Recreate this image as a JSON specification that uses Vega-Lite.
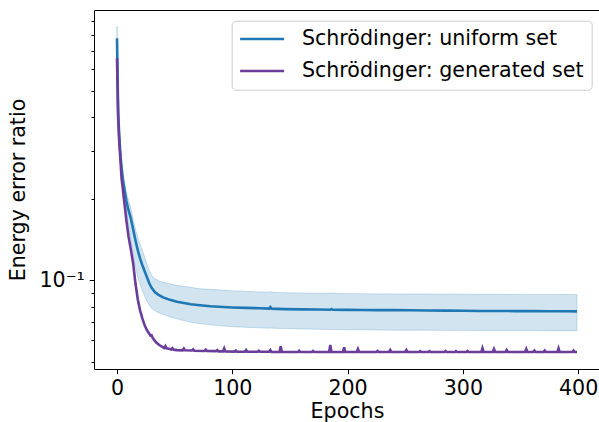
{
  "$schema": "https://vega.github.io/schema/vega-lite/v6.json",
  "width": 506,
  "height": 359,
  "autosize": {"type": "none"},
  "padding": {"left": 94, "top": 10, "right": 0, "bottom": 53},
  "config": {
    "font": "DejaVu Sans",
    "view": {"stroke": "black", "strokeWidth": 1},
    "axis": {
      "labelFont": "DejaVu Sans", "labelFontSize": 20.6, "labelColor": "black",
      "titleFont": "DejaVu Sans", "titleFontSize": 20.6, "titleFontWeight": "normal", "titleColor": "black",
      "tickColor": "black", "tickWidth": 1, "domain": false, "grid": false
    }
  },
  "datasets": {
    "u": [
      {"epoch": 0, "mean": 0.780, "lo": 0.706, "hi": 0.865},
      {"epoch": 1, "mean": 0.417, "lo": 0.396, "hi": 0.442},
      {"epoch": 2, "mean": 0.337, "lo": 0.320, "hi": 0.355},
      {"epoch": 3, "mean": 0.289, "lo": 0.277, "hi": 0.304},
      {"epoch": 4, "mean": 0.259, "lo": 0.246, "hi": 0.273},
      {"epoch": 5, "mean": 0.238, "lo": 0.224, "hi": 0.250},
      {"epoch": 6, "mean": 0.222, "lo": 0.211, "hi": 0.234},
      {"epoch": 7, "mean": 0.2095, "lo": 0.1973, "hi": 0.2223},
      {"epoch": 8, "mean": 0.1973, "lo": 0.1845, "hi": 0.2113},
      {"epoch": 9, "mean": 0.1891, "lo": 0.1708, "hi": 0.2042},
      {"epoch": 10, "mean": 0.1813, "lo": 0.1583, "hi": 0.1973},
      {"epoch": 12, "mean": 0.1694, "lo": 0.1417, "hi": 0.1845},
      {"epoch": 14, "mean": 0.1542, "lo": 0.1258, "hi": 0.1680},
      {"epoch": 16, "mean": 0.1405, "lo": 0.1117, "hi": 0.1542},
      {"epoch": 18, "mean": 0.1291, "lo": 0.1026, "hi": 0.1441},
      {"epoch": 20, "mean": 0.1205, "lo": 0.0967, "hi": 0.1358},
      {"epoch": 22, "mean": 0.1136, "lo": 0.0919, "hi": 0.1291},
      {"epoch": 24, "mean": 0.1079, "lo": 0.0873, "hi": 0.1216},
      {"epoch": 26, "mean": 0.1026, "lo": 0.0837, "hi": 0.1146},
      {"epoch": 28, "mean": 0.0975, "lo": 0.0809, "hi": 0.1089},
      {"epoch": 30, "mean": 0.0938, "lo": 0.0788, "hi": 0.1043},
      {"epoch": 33, "mean": 0.0903, "lo": 0.0772, "hi": 0.1013},
      {"epoch": 36, "mean": 0.0884, "lo": 0.0759, "hi": 0.0996},
      {"epoch": 40, "mean": 0.0865, "lo": 0.0749, "hi": 0.0983},
      {"epoch": 46, "mean": 0.0847, "lo": 0.0733, "hi": 0.0971},
      {"epoch": 52, "mean": 0.0833, "lo": 0.0721, "hi": 0.0958},
      {"epoch": 64, "mean": 0.0816, "lo": 0.0700, "hi": 0.0942},
      {"epoch": 72, "mean": 0.0809, "lo": 0.0692, "hi": 0.0930},
      {"epoch": 81, "mean": 0.0802, "lo": 0.0685, "hi": 0.0926},
      {"epoch": 100, "mean": 0.0794, "lo": 0.0674, "hi": 0.0915},
      {"epoch": 112, "mean": 0.0791, "lo": 0.0671, "hi": 0.0910},
      {"epoch": 124, "mean": 0.0789, "lo": 0.0668, "hi": 0.0906},
      {"epoch": 132, "mean": 0.0786, "lo": 0.0666, "hi": 0.0904},
      {"epoch": 133, "mean": 0.0796, "lo": 0.0668, "hi": 0.0914},
      {"epoch": 134, "mean": 0.0786, "lo": 0.0666, "hi": 0.0903},
      {"epoch": 145, "mean": 0.0783, "lo": 0.0664, "hi": 0.0900},
      {"epoch": 160, "mean": 0.0781, "lo": 0.0662, "hi": 0.0898},
      {"epoch": 175, "mean": 0.0780, "lo": 0.0660, "hi": 0.0896},
      {"epoch": 185, "mean": 0.0779, "lo": 0.0659, "hi": 0.0895},
      {"epoch": 186, "mean": 0.0784, "lo": 0.0659, "hi": 0.0902},
      {"epoch": 187, "mean": 0.0779, "lo": 0.0659, "hi": 0.0895},
      {"epoch": 200, "mean": 0.0778, "lo": 0.0657, "hi": 0.0893},
      {"epoch": 212, "mean": 0.0777, "lo": 0.0657, "hi": 0.0892},
      {"epoch": 225, "mean": 0.0776, "lo": 0.0656, "hi": 0.0891},
      {"epoch": 240, "mean": 0.0776, "lo": 0.0655, "hi": 0.0891},
      {"epoch": 255, "mean": 0.0775, "lo": 0.0655, "hi": 0.0890},
      {"epoch": 270, "mean": 0.0774, "lo": 0.0655, "hi": 0.0890},
      {"epoch": 285, "mean": 0.0773, "lo": 0.0654, "hi": 0.0889},
      {"epoch": 300, "mean": 0.0772, "lo": 0.0654, "hi": 0.0889},
      {"epoch": 315, "mean": 0.0771, "lo": 0.0653, "hi": 0.0888},
      {"epoch": 330, "mean": 0.0771, "lo": 0.0653, "hi": 0.0888},
      {"epoch": 345, "mean": 0.0770, "lo": 0.0653, "hi": 0.0887},
      {"epoch": 360, "mean": 0.0770, "lo": 0.0653, "hi": 0.0887},
      {"epoch": 375, "mean": 0.0769, "lo": 0.0652, "hi": 0.0887},
      {"epoch": 390, "mean": 0.0769, "lo": 0.0652, "hi": 0.0886},
      {"epoch": 399, "mean": 0.0768, "lo": 0.0652, "hi": 0.0886}
    ],
    "g": [
      {"epoch": 0, "value": 0.658}, {"epoch": 1, "value": 0.396}, {"epoch": 2, "value": 0.320},
      {"epoch": 3, "value": 0.277}, {"epoch": 4, "value": 0.236}, {"epoch": 5, "value": 0.219},
      {"epoch": 6, "value": 0.199}, {"epoch": 7, "value": 0.184}, {"epoch": 8, "value": 0.168},
      {"epoch": 9, "value": 0.156}, {"epoch": 10, "value": 0.145}, {"epoch": 12, "value": 0.130},
      {"epoch": 14, "value": 0.1156}, {"epoch": 16, "value": 0.0975}, {"epoch": 18, "value": 0.0851},
      {"epoch": 20, "value": 0.0775}, {"epoch": 22, "value": 0.0724}, {"epoch": 24, "value": 0.0682},
      {"epoch": 26, "value": 0.0654}, {"epoch": 28, "value": 0.0635}, {"epoch": 29, "value": 0.0626},
      {"epoch": 30, "value": 0.0627}, {"epoch": 31, "value": 0.0612}, {"epoch": 34, "value": 0.0590},
      {"epoch": 37, "value": 0.0576}, {"epoch": 40, "value": 0.0566}, {"epoch": 41, "value": 0.0563},
      {"epoch": 42, "value": 0.0572}, {"epoch": 43, "value": 0.0561}, {"epoch": 45, "value": 0.0559},
      {"epoch": 47, "value": 0.0556}, {"epoch": 48, "value": 0.0562}, {"epoch": 49, "value": 0.0555},
      {"epoch": 52, "value": 0.0553}, {"epoch": 57, "value": 0.0552}, {"epoch": 58, "value": 0.0560},
      {"epoch": 59, "value": 0.0552}, {"epoch": 65, "value": 0.0551}, {"epoch": 66, "value": 0.0556},
      {"epoch": 67, "value": 0.0550}, {"epoch": 76, "value": 0.0549}, {"epoch": 77, "value": 0.0555},
      {"epoch": 78, "value": 0.0549}, {"epoch": 86, "value": 0.0548}, {"epoch": 87, "value": 0.0553},
      {"epoch": 88, "value": 0.0547}, {"epoch": 92, "value": 0.0547}, {"epoch": 93, "value": 0.0561},
      {"epoch": 94, "value": 0.0547}, {"epoch": 102, "value": 0.0546}, {"epoch": 103, "value": 0.0551},
      {"epoch": 104, "value": 0.0546}, {"epoch": 111, "value": 0.0545}, {"epoch": 112, "value": 0.0553},
      {"epoch": 113, "value": 0.0545}, {"epoch": 122, "value": 0.0545}, {"epoch": 123, "value": 0.0550},
      {"epoch": 124, "value": 0.0545}, {"epoch": 132, "value": 0.0545}, {"epoch": 133, "value": 0.0553},
      {"epoch": 134, "value": 0.0544}, {"epoch": 141, "value": 0.0544}, {"epoch": 142, "value": 0.0571},
      {"epoch": 143, "value": 0.0544}, {"epoch": 157, "value": 0.0544}, {"epoch": 158, "value": 0.0550},
      {"epoch": 159, "value": 0.0544}, {"epoch": 169, "value": 0.0544}, {"epoch": 170, "value": 0.0549},
      {"epoch": 171, "value": 0.0544}, {"epoch": 184, "value": 0.0544}, {"epoch": 185, "value": 0.0578},
      {"epoch": 186, "value": 0.0544}, {"epoch": 196, "value": 0.0544}, {"epoch": 197, "value": 0.0566},
      {"epoch": 198, "value": 0.0544}, {"epoch": 208, "value": 0.0544}, {"epoch": 209, "value": 0.0558},
      {"epoch": 210, "value": 0.0544}, {"epoch": 225, "value": 0.0544}, {"epoch": 226, "value": 0.0549},
      {"epoch": 227, "value": 0.0544}, {"epoch": 236, "value": 0.0544}, {"epoch": 237, "value": 0.0553},
      {"epoch": 238, "value": 0.0544}, {"epoch": 250, "value": 0.0544}, {"epoch": 251, "value": 0.0553},
      {"epoch": 252, "value": 0.0544}, {"epoch": 262, "value": 0.0544}, {"epoch": 263, "value": 0.0548},
      {"epoch": 264, "value": 0.0544}, {"epoch": 270, "value": 0.0544}, {"epoch": 271, "value": 0.0548},
      {"epoch": 272, "value": 0.0544}, {"epoch": 284, "value": 0.0544}, {"epoch": 285, "value": 0.0549},
      {"epoch": 286, "value": 0.0544}, {"epoch": 293, "value": 0.0544}, {"epoch": 294, "value": 0.0548},
      {"epoch": 295, "value": 0.0544}, {"epoch": 303, "value": 0.0544}, {"epoch": 304, "value": 0.0549},
      {"epoch": 305, "value": 0.0544}, {"epoch": 316, "value": 0.0544}, {"epoch": 317, "value": 0.0562},
      {"epoch": 318, "value": 0.0544}, {"epoch": 326, "value": 0.0544}, {"epoch": 327, "value": 0.0558},
      {"epoch": 328, "value": 0.0544}, {"epoch": 337, "value": 0.0544}, {"epoch": 338, "value": 0.0553},
      {"epoch": 339, "value": 0.0544}, {"epoch": 354, "value": 0.0544}, {"epoch": 355, "value": 0.0558},
      {"epoch": 356, "value": 0.0544}, {"epoch": 361, "value": 0.0544}, {"epoch": 362, "value": 0.0551},
      {"epoch": 363, "value": 0.0544}, {"epoch": 370, "value": 0.0544}, {"epoch": 371, "value": 0.0551},
      {"epoch": 372, "value": 0.0544}, {"epoch": 382, "value": 0.0544}, {"epoch": 383, "value": 0.0561},
      {"epoch": 384, "value": 0.0544}, {"epoch": 395, "value": 0.0544}, {"epoch": 396, "value": 0.0551},
      {"epoch": 397, "value": 0.0544}, {"epoch": 399, "value": 0.0544}
    ]
  },
  "layer": [
    {
      "data": {"name": "u"},
      "mark": {"type": "area", "color": "#1f77b4", "fillOpacity": 0.2, "stroke": "#1f77b4", "strokeOpacity": 0.22, "strokeWidth": 1},
      "encoding": {
        "x": {"field": "epoch", "type": "quantitative",
          "scale": {"domain": [-19.95, 418.95], "nice": false, "zero": false},
          "axis": {"values": [0, 100, 200, 300, 400], "tickSize": 4.7, "labelPadding": 5, "labelFlush": false, "title": "Epochs", "titlePadding": 2}},
        "y": {"field": "lo", "type": "quantitative",
          "scale": {"type": "log", "domain": [0.0471, 0.9915], "nice": false},
          "axis": {"orient": "left", "values": [0.1], "tickSize": 4.7, "labelPadding": 5, "labelExpr": "'10⁻¹'", "title": "Energy error ratio", "titlePadding": 10}},
        "y2": {"field": "hi"}
      }
    },
    {
      "data": {"name": "u"},
      "mark": {"type": "line", "strokeWidth": 2.6},
      "encoding": {
        "x": {"field": "epoch", "type": "quantitative"},
        "y": {"field": "mean", "type": "quantitative",
          "axis": {"orient": "left", "values": [0.05, 0.06, 0.07, 0.08, 0.09, 0.2, 0.3, 0.4, 0.5, 0.6, 0.7, 0.8, 0.9], "labels": false, "tickSize": 3, "title": null}},
        "color": {"datum": "Schrödinger: uniform set", "type": "nominal",
          "scale": {"domain": ["Schrödinger: uniform set", "Schrödinger: generated set"], "range": ["#1f77b4", "#6a3d9a"]},
          "legend": {"orient": "none", "legendX": 137.7, "legendY": 10.7, "title": null,
            "symbolType": "M-1.165,0H4.01", "symbolSize": 289, "symbolStrokeWidth": 2.6,
            "labelFontSize": 20.6, "labelFont": "DejaVu Sans", "labelColor": "black", "labelLimit": 600,
            "strokeColor": "#cccccc", "fillColor": "white", "cornerRadius": 4,
            "padding": 8, "rowPadding": 11, "labelOffset": 41.6}}
      }
    },
    {
      "data": {"name": "g"},
      "mark": {"type": "line", "strokeWidth": 2.6},
      "encoding": {
        "x": {"field": "epoch", "type": "quantitative"},
        "y": {"field": "value", "type": "quantitative", "axis": null},
        "color": {"datum": "Schrödinger: generated set", "type": "nominal"}
      }
    }
  ],
  "resolve": {"axis": {"y": "independent"}}
}
